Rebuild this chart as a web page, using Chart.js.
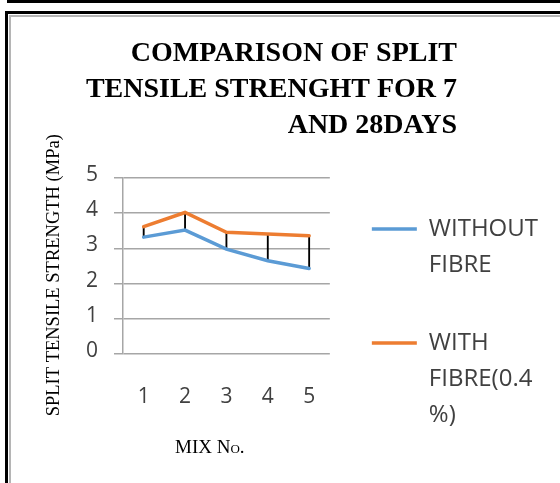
<!DOCTYPE html>
<html>
<head>
<meta charset="utf-8">
<script src="https://cdn.jsdelivr.net/npm/chart.js@4.4.1/dist/chart.umd.min.js"></script>
<style>
html,body{margin:0;padding:0;background:#fff;}
#wrap{position:relative;width:560px;height:483px;overflow:hidden;background:#fff;}
#topbar{position:absolute;left:7px;top:0;width:560px;height:3px;background:#000;}
#frame{position:absolute;left:5px;top:11px;width:600px;height:520px;border-left:3px solid #000;border-top:3px solid #000;}
#inner{position:absolute;left:1px;top:1px;width:600px;height:520px;border-left:2px solid #b5b5b5;border-top:2px solid #b5b5b5;}
#c{position:absolute;left:0;top:0;}
</style>
</head>
<body>
<div id="wrap">
  <div id="topbar"></div>
  <div id="frame"><div id="inner"></div></div>
  <canvas id="c" width="560" height="483"></canvas>
</div>
<script>
// ---- data ----
const categories = ['1', '2', '3', '4', '5'];
const withoutFibre = [3.32, 3.52, 2.98, 2.65, 2.43];
const withFibre = [3.62, 4.02, 3.46, 3.41, 3.36];
const seriesNames = ['WITHOUT FIBRE', 'WITH FIBRE(0.4%)'];
const legendLines = [['WITHOUT', 'FIBRE'], ['WITH', 'FIBRE(0.4', '%)']];
const titleLines = ['COMPARISON OF SPLIT', 'TENSILE STRENGHT FOR 7', 'AND 28DAYS'];
const yTitle = 'SPLIT TENSILE STRENGTH (MPa)';
const xTitle = 'MIX No.';
const yMin = 0, yMax = 5, yStep = 1;

// high-low connectors between the two series
const highLow = categories.map((c, i) => [
  Math.min(withoutFibre[i], withFibre[i]),
  Math.max(withoutFibre[i], withFibre[i])
]);

const sans = "'Open Sans', sans-serif";
const serif = "'Liberation Serif', 'Times New Roman', serif";
const titlePad = '             ';

new Chart(document.getElementById('c'), {
  data: {
    labels: categories,
    datasets: [
      {
        type: 'line', label: seriesNames[0], data: withoutFibre,
        borderColor: '#5B9BD5', backgroundColor: '#5B9BD5', borderWidth: 3.5,
        borderCapStyle: 'round', pointRadius: 0, tension: 0, order: 1
      },
      {
        type: 'line', label: seriesNames[1], data: withFibre,
        borderColor: '#ED7D31', backgroundColor: '#ED7D31', borderWidth: 3.5,
        borderCapStyle: 'round', pointRadius: 0, tension: 0, order: 2
      },
      {
        type: 'bar', label: '', data: highLow,
        backgroundColor: '#000', borderWidth: 0, barThickness: 1.2, order: 3
      }
    ]
  },
  options: {
    responsive: false,
    animation: false,
    devicePixelRatio: 1,
    layout: { padding: { left: 0, right: 12, top: 0, bottom: 0 } },
    plugins: {
      tooltip: { enabled: false },
      title: {
        display: true, text: titleLines.map(t => t + titlePad), align: 'end', color: '#000',
        font: { family: serif, size: 28, weight: 'bold', lineHeight: 36 / 28 },
        padding: { top: 35.5, bottom: 34.5 }
      },
      legend: {
        position: 'right', align: 'start', fullSize: true, maxWidth: 400,
        title: { display: true, text: ' ', font: { size: 10, lineHeight: 1 }, padding: { top: 165, bottom: 0 } },
        labels: {
          font: { family: sans, size: 24, lineHeight: 36 / 24 },
          color: '#404040',
          usePointStyle: true, pointStyle: 'line', pointStyleWidth: 45,
          padding: 42,
          filter: (item) => item.datasetIndex < 2,
          generateLabels: (chart) => {
            const items = Chart.defaults.plugins.legend.labels.generateLabels(chart);
            items.forEach(it => { if (it.datasetIndex < 2) it.text = legendLines[it.datasetIndex]; });
            return items;
          }
        }
      }
    },
    scales: {
      x: {
        grid: { display: false, drawTicks: false },
        border: { display: false },
        ticks: { font: { family: sans, size: 21 }, color: '#404040', padding: 30 },
        title: {
          display: true, text: xTitle + '       ', color: '#000',
          font: { family: serif, size: 19, weight: 'small-caps', lineHeight: 1.2 },
          padding: { top: 0, bottom: 23.6 }
        },
        afterFit: (s) => { s.height = 129; }
      },
      y: {
        min: yMin, max: yMax,
        ticks: { stepSize: yStep, font: { family: sans, size: 21 }, color: '#404040', padding: 16, labelOffset: -3 },
        grid: { color: '#a6a6a6', lineWidth: 1.5, tickLength: 9 },
        border: { color: '#a6a6a6', width: 1.5 },
        title: {
          display: true, text: yTitle + '    ', color: '#000',
          font: { family: serif, size: 18.5, lineHeight: 1.2 },
          padding: { top: 42.9, bottom: 0 }
        },
        afterFit: (s) => { s.width = 123; }
      }
    }
  }
});
</script>
</body>
</html>
